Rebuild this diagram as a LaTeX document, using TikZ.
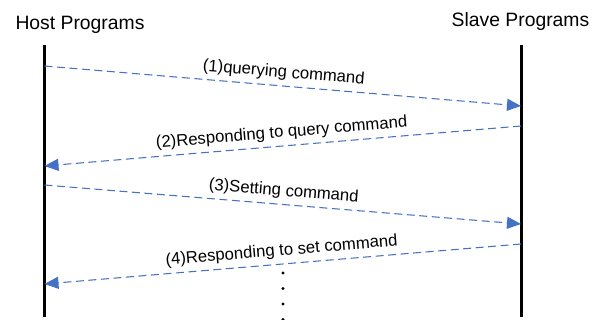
\documentclass[tikz,border=0pt]{standalone}
\usepackage{fontspec}
\setmainfont{Liberation Sans}
\usetikzlibrary{arrows.meta,positioning}
\definecolor{msgblue}{HTML}{4472C4}
\tikzset{
  life/.style={line width=2.25pt, draw=black},
  msg/.style={-{Triangle[length=10.5pt, width=9pt]}, line width=.8pt, draw=msgblue, dash pattern=on 6pt off 3.4pt},
  msglbl/.style={font=\fontsize{12.5}{14}\selectfont, midway, above, sloped, inner sep=3.5pt},
  hdr/.style={font=\fontsize{14.5}{17}\selectfont, anchor=base, inner sep=0pt},
}

\begin{document}
\begin{tikzpicture}[x=0.75pt, y=-0.75pt]
  \useasboundingbox (0,0) rectangle (601,320);

  % headers
  \node[hdr] (hostHdr) at (80,30) {Host Programs};
  \node[hdr] (slaveHdr) at (520.5,27) {Slave Programs};

  % lifelines
  \coordinate (hostTop) at (44.5,45);
  \coordinate (hostBot) at (44.5,317);
  \coordinate (slaveTop) at (521,45);
  \coordinate (slaveBot) at (521,317);
  \draw[life] (hostTop) -- (hostBot);
  \draw[life] (slaveTop) -- (slaveBot);

  % message end points
  \coordinate (h1) at (44.5,66);   \coordinate (s1) at (521,106);
  \coordinate (s2) at (521,126);   \coordinate (h2) at (44.5,166);
  \coordinate (h3) at (44.5,185);  \coordinate (s3) at (521,224);
  \coordinate (s4) at (521,244);   \coordinate (h4) at (44.5,284);

  \draw[msg] (h1) -- (s1) node[msglbl] {(1)querying command};
  \draw[msg] (s2) -- (h2) node[msglbl] {(2)Responding to query command};
  \draw[msg] (h3) -- (s3) node[msglbl] {(3)Setting command};
  \draw[msg] (s4) -- (h4) node[msglbl] {(4)Responding to set command};

  % continuation dots
  \foreach \y in {273,288.5,304,319.5}
    \fill (283,\y) circle (1.3pt);
\end{tikzpicture}
\end{document}
